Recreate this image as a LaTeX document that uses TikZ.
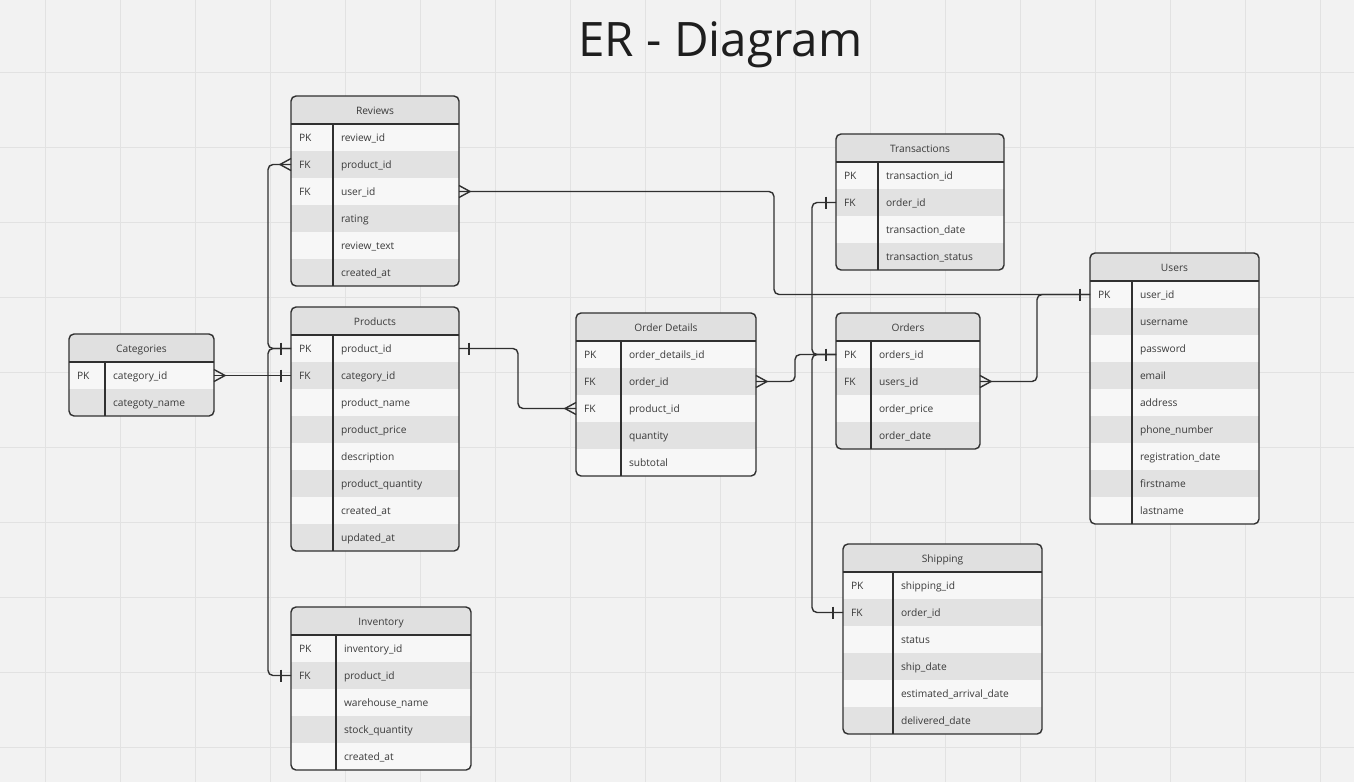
\documentclass[tikz,border=0pt]{standalone}
\usepackage{fontspec}
\setmainfont{Open Sans}
\definecolor{bg}{HTML}{F2F2F2}
\definecolor{gridc}{HTML}{E2E2E2}
\definecolor{hdrc}{HTML}{E0E0E0}
\definecolor{rowA}{HTML}{F7F7F7}
\definecolor{rowB}{HTML}{E2E2E2}
\definecolor{ink}{HTML}{303030}
\definecolor{txtc}{HTML}{3A3A3A}
\definecolor{titlec}{HTML}{1E1E1E}
\tikzset{
  tblline/.style={draw=ink, line width=1.4pt},
  hdr/.style={fill=hdrc, minimum height=28pt, inner sep=0pt, outer sep=0pt},
  fieldrow/.style={minimum height=27pt, inner sep=0pt, outer sep=0pt},
  txt/.style={inner sep=0pt, outer sep=0pt, font=\fontsize{10.2}{12}\selectfont, text=txtc},
  conn/.style={draw=ink, line width=1.4pt, rounded corners=5pt},
  endmark/.style={draw=ink, line width=1.4pt},
  gridline/.style={draw=gridc, line width=1pt}
}
% #1 id, #2 left, #3 top, #4 width, #5 key col width, #6 rows, #7 title, #8 list
\newcommand\erTable[8]{%
  \begin{scope}
    \clip[rounded corners=5pt] (#2,#3) rectangle ++(#4,28+27*#6);
    \node[hdr, minimum width=#4pt, anchor=north west] (#1) at (#2,#3) {};
    \foreach \k/\f [count=\i] in {#8} {
      \ifodd\i\relax\def\rc{rowA}\else\def\rc{rowB}\fi
      \node[fieldrow, fill=\rc, minimum width=#4pt, anchor=north west] (#1-\i) at (#2,#3+1+27*\i) {};
      \node[txt, anchor=base west] (#1-\i-k) at ([xshift=8pt,yshift=-4pt]#1-\i.west) {\k};
      \node[txt, anchor=base west] (#1-\i-f) at ([xshift=#5pt+8pt,yshift=-4pt]#1-\i.west) {\f};
    }
  \end{scope}
  \node[txt, anchor=base] (#1-t) at ([yshift=-4pt]#1.center) {#7};
  \draw[tblline] (#1.south west) -- (#1.south east);
  \draw[tblline] ([xshift=#5pt]#1.south west) -- ++(0,27*#6);
  \draw[tblline, rounded corners=5pt] (#2,#3) rectangle ++(#4,28+27*#6);
}
\newcommand\crowW[1]{\draw[endmark] ([yshift=6pt]#1) -- ([xshift=-11pt]#1) -- ([yshift=-6pt]#1);}
\newcommand\crowE[1]{\draw[endmark] ([yshift=6pt]#1) -- ([xshift=11pt]#1) -- ([yshift=-6pt]#1);}
\newcommand\barW[1]{\draw[endmark] ([xshift=-10pt,yshift=6pt]#1) -- ([xshift=-10pt,yshift=-6pt]#1);}
\newcommand\barE[1]{\draw[endmark] ([xshift=10pt,yshift=6pt]#1) -- ([xshift=10pt,yshift=-6pt]#1);}
\begin{document}
\begin{tikzpicture}[x=1pt, y=-1pt]
  \useasboundingbox (0,0) rectangle (1354,782);
  \fill[bg] (0,0) rectangle (1354,782);
  \foreach \gx in {45,120,...,1320} \draw[gridline] (\gx,0) -- (\gx,782);
  \foreach \gy in {72,147,...,747} \draw[gridline] (0,\gy) -- (1354,\gy);

  \node[font=\fontsize{47.5}{56}\selectfont, text=titlec, inner sep=0pt, anchor=base] (title) at (720.5,56.7) {ER - Diagram};

  \erTable{rev}{291}{96}{168}{42}{6}{Reviews}{PK/review\_id, FK/product\_id, FK/user\_id, /rating, /review\_text, /created\_at}
  \erTable{prd}{291}{307}{168}{42}{8}{Products}{PK/product\_id, FK/category\_id, /product\_name, /product\_price, /description, /product\_quantity, /created\_at, /updated\_at}
  \erTable{cat}{69}{334}{145}{36}{2}{Categories}{PK/category\_id, /categoty\_name}
  \erTable{inv}{291}{607}{180}{45}{5}{Inventory}{PK/inventory\_id, FK/product\_id, /warehouse\_name, /stock\_quantity, /created\_at}
  \erTable{od}{576}{313}{180}{45}{5}{Order Details}{PK/order\_details\_id, FK/order\_id, FK/product\_id, /quantity, /subtotal}
  \erTable{trn}{836}{134}{168}{42}{4}{Transactions}{PK/transaction\_id, FK/order\_id, /transaction\_date, /transaction\_status}
  \erTable{ord}{836}{313}{144}{35}{4}{Orders}{PK/orders\_id, FK/users\_id, /order\_price, /order\_date}
  \erTable{usr}{1090}{253}{169}{42}{9}{Users}{PK/user\_id, /username, /password, /email, /address, /phone\_number, /registration\_date, /firstname, /lastname}
  \erTable{shp}{843}{544}{199}{50}{6}{Shipping}{PK/shipping\_id, FK/order\_id, /status, /ship\_date, /estimated\_arrival\_date, /delivered\_date}

  % connectors
  \draw[conn] (rev-2.west) -- ++(-23,0) |- (prd-1.west);
  \draw[conn] (prd-1.west) -- ++(-23,0) |- (inv-2.west);
  \draw[conn] (cat-1.east) -- (prd-2.west);
  \draw[conn] (prd-1.east) -- ++(59,0) |- (od-3.west);
  \draw[conn] (od-2.east) -- ++(39,0) |- (ord-1.west);
  \draw[conn] (ord-1.west) -- ++(-24,0) |- (trn-2.west);
  \draw[conn] (ord-1.west) -- ++(-24,0) |- (shp-2.west);
  \draw[conn] (rev-3.east) -- ++(315,0) |- (usr-1.west);
  \draw[conn] (ord-2.east) -- ++(57,0) |- (usr-1.west);

  % ends
  \crowW{rev-2.west}
  \barW{prd-1.west}
  \barW{inv-2.west}
  \crowE{cat-1.east}
  \barW{prd-2.west}
  \barE{prd-1.east}
  \crowW{od-3.west}
  \crowE{od-2.east}
  \barW{ord-1.west}
  \barW{trn-2.west}
  \barW{shp-2.west}
  \crowE{rev-3.east}
  \crowE{ord-2.east}
  \barW{usr-1.west}
\end{tikzpicture}
\end{document}
